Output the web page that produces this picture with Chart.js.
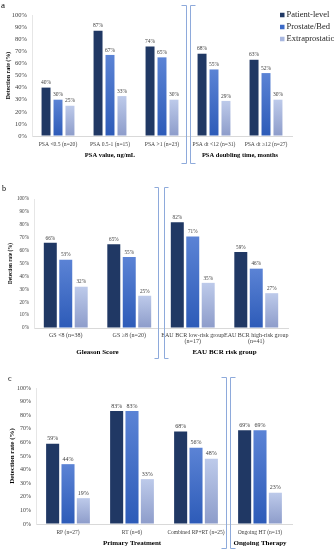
<!DOCTYPE html>
<html><head><meta charset="utf-8">
<script src="https://cdn.jsdelivr.net/npm/chart.js@4"></script>
<style>
html,body{margin:0;padding:0;background:#fff;}
body{width:335px;height:550px;position:relative;overflow:hidden;}
canvas{position:absolute;left:0;}
</style></head><body>
<canvas id="ca" width="335" height="175" style="top:0px"></canvas>
<canvas id="cb" width="335" height="185" style="top:175px"></canvas>
<canvas id="cc" width="335" height="190" style="top:360px"></canvas>
<script>
// ---------- data ----------
const seriesNames = ["Patient-level", "Prostate/Bed", "Extraprostatic"];
const yTickValues = [0, 10, 20, 30, 40, 50, 60, 70, 80, 90, 100];

const categoriesA = ["PSA <0.5 (n=20)", "PSA 0.5-1 (n=15)", "PSA >1 (n=23)", "PSA dt <12 (n=31)", "PSA dt \u226512 (n=27)"];
const patientA = [40, 87, 74, 68, 63];
const prostateA = [30, 67, 65, 55, 52];
const extraA = [25, 33, 30, 29, 30];
const groupsA = [{title: "PSA value, ng/mL", first: 0, last: 2}, {title: "PSA doubling time, months", first: 3, last: 4}];

const categoriesB = ["GS <8 (n=38)", "GS \u22658 (n=20)", ["EAU BCR low-risk group", "(n=17)"], ["EAU BCR high-risk group", "(n=41)"]];
const patientB = [66, 65, 82, 59];
const prostateB = [53, 55, 71, 46];
const extraB = [32, 25, 35, 27];
const groupsB = [{title: "Gleason Score", first: 0, last: 1}, {title: "EAU BCR risk group", first: 2, last: 3}];

const categoriesC = ["RP (n=27)", "RT (n=6)", "Combined RP+RT (n=25)", "Ongoing HT (n=13)"];
const patientC = [59, 83, 68, 69];
const prostateC = [44, 83, 56, 69];
const extraC = [19, 33, 48, 23];
const groupsC = [{title: "Primary Treatment", first: 0, last: 2}, {title: "Ongoing Therapy", first: 3, last: 3}];

// ---------- style ----------
const FONT = "'Liberation Serif', 'Times New Roman', serif";
const NAVY = '#203864';
const legendColors = [NAVY, '#3b69c7', '#a8b7e0'];

function grad(top, bottom) {
  return (c) => {
    const chart = c.chart;
    if (!chart.chartArea || c.type !== 'data' || !c.parsed) return bottom;
    const y = chart.scales.y;
    const yTop = y.getPixelForValue(c.parsed.y);
    const yBot = y.getPixelForValue(0);
    if (!isFinite(yTop) || !isFinite(yBot) || Math.abs(yTop - yBot) < 1) return bottom;
    const g = chart.ctx.createLinearGradient(0, yTop, 0, yBot);
    g.addColorStop(0, top);
    g.addColorStop(1, bottom);
    return g;
  };
}

const panelPlugin = {
  id: 'panel',
  afterDraw(chart, args, o) {
    const ctx = chart.ctx, x = chart.scales.x, area = chart.chartArea;
    ctx.save();
    // panel letter
    ctx.fillStyle = '#000';
    ctx.font = o.letterSize + 'px ' + FONT;
    ctx.textAlign = 'left';
    ctx.textBaseline = 'middle';
    ctx.fillText(o.letter, o.letterX, o.letterY);
    // value labels
    ctx.font = o.valueFont + 'px ' + FONT;
    ctx.fillStyle = '#404040';
    ctx.textAlign = 'center';
    ctx.textBaseline = 'bottom';
    chart.data.datasets.forEach((ds, i) => {
      chart.getDatasetMeta(i).data.forEach((bar, j) => {
        ctx.fillText(ds.data[j] + '%', bar.x, bar.y - 2);
      });
    });
    // group titles
    ctx.font = 'bold ' + o.groupFont + 'px ' + FONT;
    ctx.fillStyle = '#000';
    ctx.textBaseline = 'middle';
    o.groups.forEach(g => {
      const cx = (x.getPixelForValue(g.first) + x.getPixelForValue(g.last)) / 2;
      ctx.fillText(g.title, cx + (g.dx || 0), area.bottom + o.groupOffset);
    });
    // bracket
    const b = o.bracket;
    const bx = (x.getPixelForValue(b.after) + x.getPixelForValue(b.after + 1)) / 2;
    const l = Math.round(bx - b.half) + 0.5, r = Math.round(bx + b.half) + 0.5;
    const t = b.top + 0.5, bt = b.bottom + 0.5;
    ctx.strokeStyle = '#8eaadb';
    ctx.lineWidth = 1;
    ctx.beginPath();
    ctx.moveTo(l - b.arm, t); ctx.lineTo(l, t); ctx.lineTo(l, bt); ctx.lineTo(l - b.arm, bt);
    ctx.moveTo(r + b.arm, t); ctx.lineTo(r, t); ctx.lineTo(r, bt); ctx.lineTo(r + b.arm, bt);
    ctx.stroke();
    // legend
    if (o.legend) {
      const L = o.legend;
      ctx.font = L.font + 'px ' + FONT;
      ctx.textAlign = 'left';
      ctx.textBaseline = 'middle';
      chart.data.datasets.forEach((ds, i) => {
        const cy = L.y + i * L.step;
        ctx.fillStyle = legendColors[i];
        ctx.fillRect(L.x, cy - L.box / 2, L.box, L.box);
        ctx.fillStyle = '#262626';
        ctx.fillText(ds.label, L.x + L.box + 2, cy);
      });
    }
    ctx.restore();
  }
};

function makeChart(id, cfg) {
  return new Chart(document.getElementById(id), {
    type: 'bar',
    data: {
      labels: cfg.labels,
      datasets: [
        {label: seriesNames[0], data: cfg.values[0], backgroundColor: NAVY},
        {label: seriesNames[1], data: cfg.values[1], backgroundColor: grad('#5b83d5', '#2d5bb8')},
        {label: seriesNames[2], data: cfg.values[2], backgroundColor: grad('#bdcaea', '#8d9cca')}
      ]
    },
    options: {
      responsive: false,
      animation: false,
      devicePixelRatio: 1,
      layout: {padding: {left: 0, right: cfg.padRight, top: cfg.padTop, bottom: 0}},
      datasets: {bar: {categoryPercentage: cfg.cp, barPercentage: cfg.bp}},
      scales: {
        x: {
          grid: {display: true, drawOnChartArea: false, drawTicks: false},
          border: {color: '#d9d9d9'},
          ticks: {autoSkip: false, maxRotation: 0, minRotation: 0, padding: cfg.xPad, color: '#404040',
                  font: {family: FONT, size: cfg.xFont, lineHeight: 1.1}},
          afterFit: s => { s.height = cfg.xHeight; }
        },
        y: {
          min: 0, max: 100,
          afterBuildTicks: s => { s.ticks = yTickValues.map(v => ({value: v})); },
          ticks: {callback: v => v + '%', padding: 5, color: '#404040', font: {family: FONT, size: cfg.yFont}},
          grid: {display: true, drawOnChartArea: false, drawTicks: false},
          border: {color: '#e6e6e6'},
          title: {display: true, text: 'Detection rate (%)', color: '#000',
                  font: {family: FONT, size: cfg.titleFont, weight: 'bold'}, padding: {top: cfg.titlePad, bottom: 0}},
          afterFit: s => { s.width = cfg.yWidth; }
        }
      },
      plugins: {legend: {display: false}, tooltip: {enabled: false}, panel: cfg.panel}
    },
    plugins: [panelPlugin]
  });
}

makeChart('ca', {
  labels: categoriesA, values: [patientA, prostateA, extraA],
  padTop: 15, padRight: 43, yWidth: 32, xHeight: 39, xPad: 5, xFont: 5.6, yFont: 6.5,
  titleFont: 6, titlePad: 5, cp: 0.69, bp: 0.75,
  panel: {letter: 'a', letterX: 1, letterY: 6, letterSize: 9, valueFont: 5.5, groupFont: 6.5, groupOffset: 19,
          groups: groupsA, bracket: {after: 2, half: 2, arm: 5, top: 5, bottom: 163},
          legend: {x: 280, y: 15, step: 12, box: 4.5, font: 8.5}}
});
makeChart('cb', {
  labels: categoriesB, values: [patientB, prostateB, extraB],
  padTop: 24, padRight: 47, yWidth: 34, xHeight: 32, xPad: 4, xFont: 6, yFont: 5.2,
  titleFont: 5.2, titlePad: 8, cp: 0.73, bp: 0.84,
  panel: {letter: 'b', letterX: 2, letterY: 14, letterSize: 8, valueFont: 5.2, groupFont: 7, groupOffset: 24,
          groups: groupsB, bracket: {after: 1, half: 3, arm: 4, top: 12, bottom: 183}, legend: null}
});
makeChart('cc', {
  labels: categoriesC, values: [patientC, prostateC, extraC],
  padTop: 28, padRight: 43, yWidth: 36, xHeight: 26, xPad: 6, xFont: 5.5, yFont: 6,
  titleFont: 7, titlePad: 8, cp: 0.72, bp: 0.85,
  panel: {letter: 'c', letterX: 8, letterY: 19, letterSize: 8, valueFont: 6, groupFont: 7, groupOffset: 19,
          groups: groupsC, bracket: {after: 2, half: 2, arm: 5, top: 17, bottom: 188}, legend: null}
});
</script>
</body></html>
